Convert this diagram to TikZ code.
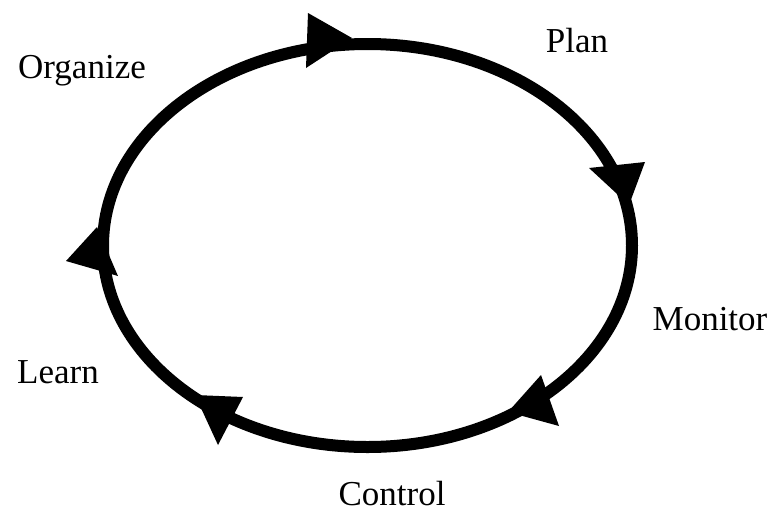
\documentclass[tikz,border=0pt]{standalone}
\usepackage{fontspec}
\setmainfont{Liberation Serif}
\begin{document}
\begin{tikzpicture}[x=1pt,y=-1pt,
  cycleline/.style={line width=12pt, draw=black},
  head/.style={fill=black},
  label/.style={font=\fontsize{35}{40}\selectfont, anchor=base, inner sep=0pt}]
\useasboundingbox (0,0) rectangle (777,512);
% the cycle
\draw[cycleline] (367.5,245.5) ellipse [x radius=264.5, y radius=201.5];
% arrowheads along the cycle (clockwise)
\fill[head] (352,38) -- (308,13) -- (306,68) -- cycle;
\fill[head] (629,205) -- (589,168) -- (645,162) -- cycle;
\fill[head] (508,412) -- (541,375) -- (559,426) -- cycle;
\fill[head] (195,395) -- (243,397) -- (218,445) -- cycle;
\fill[head] (97,227) -- (66,261) -- (118,276) -- cycle;
% stage labels
\node[label] (organize) at (82,78)  {Organize};
\node[label] (plan)     at (577,52) {Plan};
\node[label] (monitor)  at (710,330) {Monitor};
\node[label] (learn)    at (58,383) {Learn};
\node[label] (control)  at (392,505) {Control};
\end{tikzpicture}
\end{document}
